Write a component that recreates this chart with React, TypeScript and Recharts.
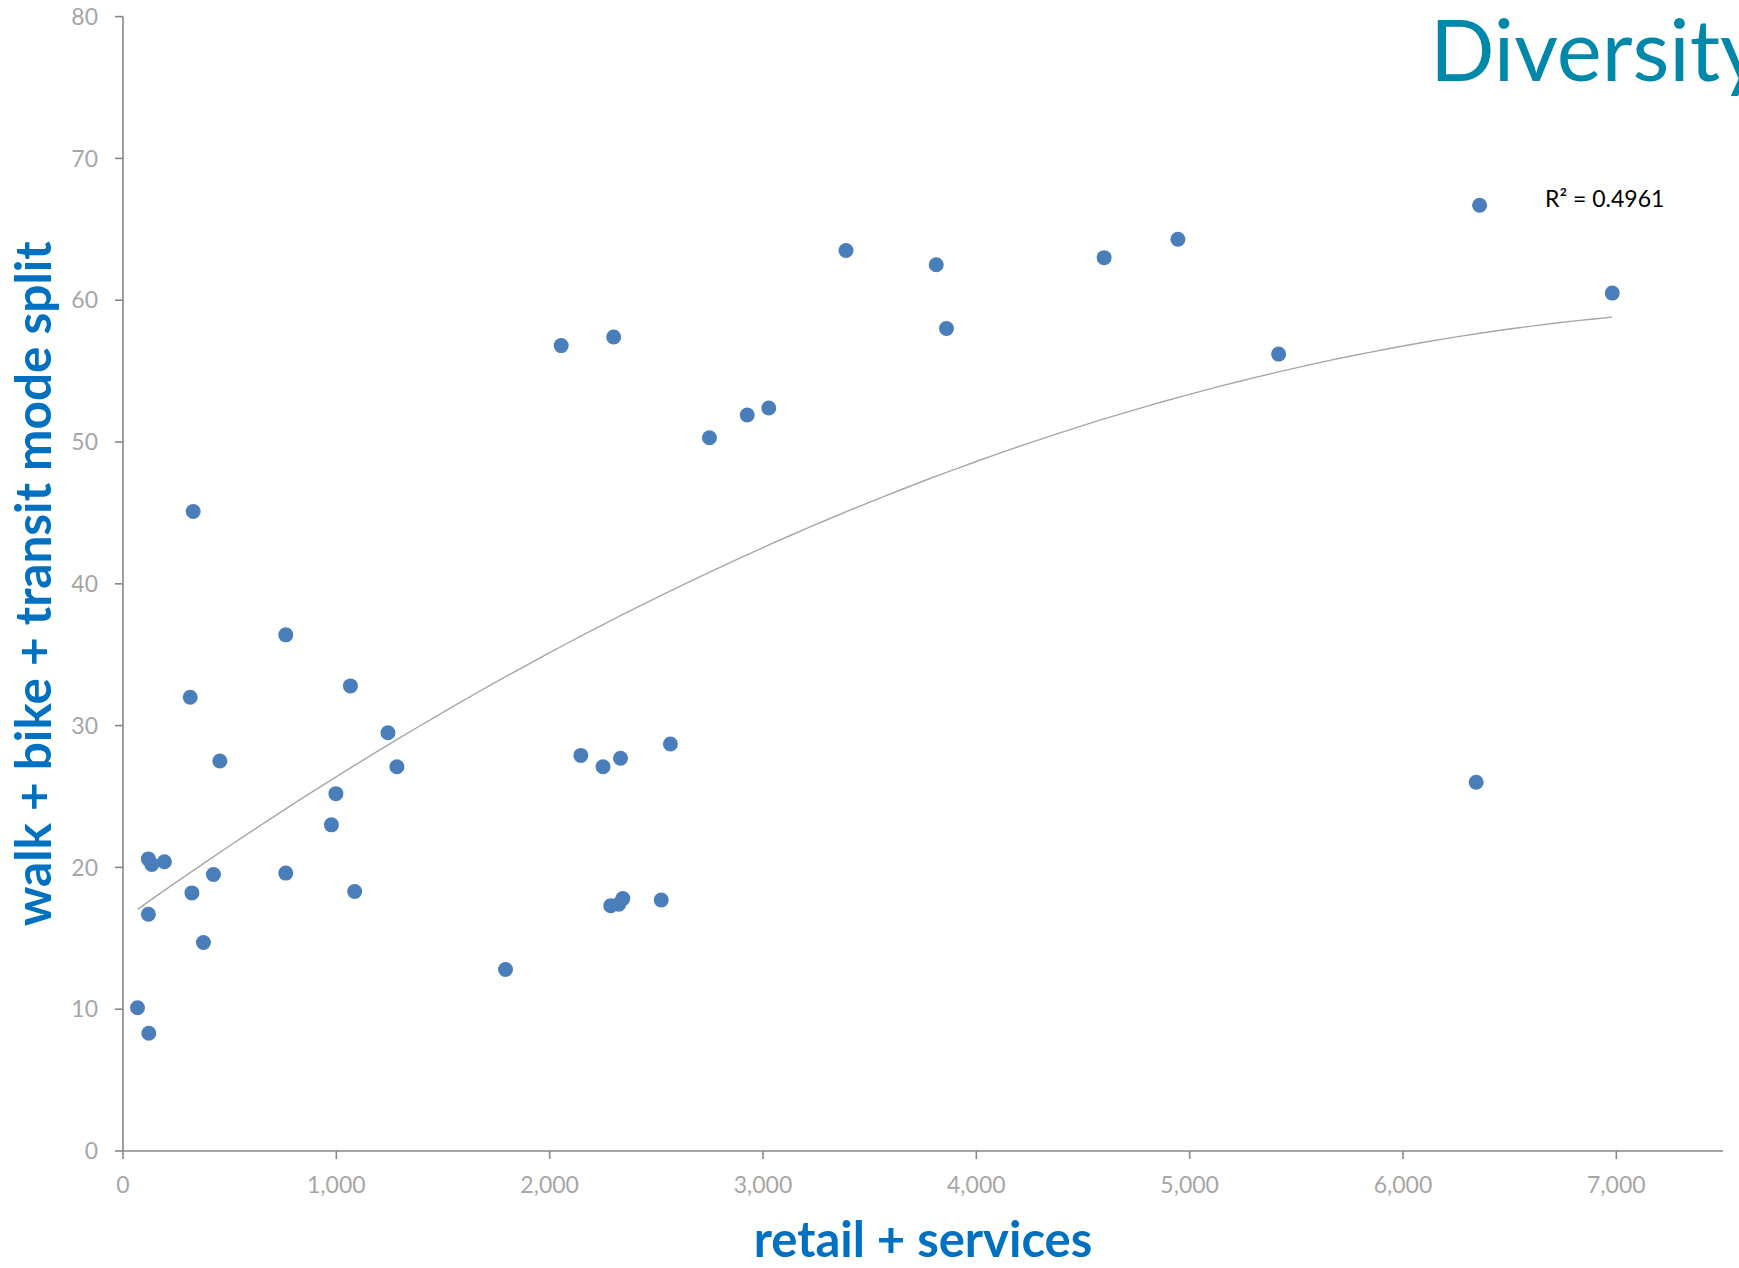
import React from "react";
import { ScatterChart, Scatter, XAxis, YAxis, Label } from "recharts";

// retail + services (x) and walk + bike + transit mode split (y)
const retailServices = [
  68, 121, 119, 119, 135, 194, 323, 377, 424, 315, 329, 454, 763, 763, 977, 998,
  1066, 1086, 1242, 1284, 1793, 2054, 2300, 2146, 2250, 2332, 2566, 2286, 2324,
  2343, 2523, 2749, 2926, 3027, 3389, 3812, 3860, 4599, 4945, 5417, 6343, 6359, 6981,
];
const modeSplit = [
  10.1, 8.3, 16.7, 20.6, 20.2, 20.4, 18.2, 14.7, 19.5, 32.0, 45.1, 27.5, 36.4, 19.6,
  23.0, 25.2, 32.8, 18.3, 29.5, 27.1, 12.8, 56.8, 57.4, 27.9, 27.1, 27.7, 28.7, 17.3,
  17.4, 17.8, 17.7, 50.3, 51.9, 52.4, 63.5, 62.5, 58.0, 63.0, 64.3, 56.2, 26.0, 66.7, 60.5,
];
const xTicks = [0, 1000, 2000, 3000, 4000, 5000, 6000, 7000];
const yTicks = [0, 10, 20, 30, 40, 50, 60, 70, 80];
const chartTitle = "Diversity";
const rSquaredLabel = "R² = 0.4961";
const xTitle = "retail + services";
const yTitle = "walk + bike + transit mode split";

const points = retailServices.map((x, i) => ({ x, y: modeSplit[i] }));

// Polynomial (order 2) least-squares trendline, as the original chart's trendline
function fitQuadratic(xs: number[], ys: number[]) {
  const s = [0, 0, 0, 0, 0];
  const t = [0, 0, 0];
  xs.forEach((xv, i) => {
    const u = xv / 1000;
    for (let k = 0; k < 5; k++) s[k] += Math.pow(u, k);
    for (let k = 0; k < 3; k++) t[k] += ys[i] * Math.pow(u, k);
  });
  const A = [
    [s[0], s[1], s[2], t[0]],
    [s[1], s[2], s[3], t[1]],
    [s[2], s[3], s[4], t[2]],
  ];
  for (let c = 0; c < 3; c++) {
    for (let r = c + 1; r < 3; r++) {
      const f = A[r][c] / A[c][c];
      for (let k = c; k < 4; k++) A[r][k] -= f * A[c][k];
    }
  }
  const coef = [0, 0, 0];
  for (let r = 2; r >= 0; r--) {
    let v = A[r][3];
    for (let k = r + 1; k < 3; k++) v -= A[r][k] * coef[k];
    coef[r] = v / A[r][r];
  }
  return coef;
}
const coef = fitQuadratic(retailServices, modeSplit);
const xMin = Math.min(...retailServices);
const xMax = Math.max(...retailServices);
const trendData = Array.from({ length: 80 }, (_, i) => {
  const x = xMin + ((xMax - xMin) * i) / 79;
  const u = x / 1000;
  return { x, y: coef[0] + coef[1] * u + coef[2] * u * u };
});

const FONT = "Lato, 'Open Sans', sans-serif";
const tickStyle = { fill: "#A6A6A6", fontSize: 23, fontFamily: FONT };

const Dot = (props: any) => (
  <circle cx={props.cx} cy={props.cy} r={7.5} fill="#4A7EBB" />
);
const NoShape = () => <g />;

export default function App() {
  return (
    <div
      style={{
        position: "absolute",
        left: 0,
        top: 0,
        width: 1739,
        height: 1268,
        overflow: "hidden",
        background: "#ffffff",
      }}
    >
      <ScatterChart
        width={1739}
        height={1268}
        margin={{ top: 16.6, right: 16, left: 0, bottom: 0 }}
        style={{ fontFamily: FONT }}
      >
        <XAxis
          type="number"
          dataKey="x"
          domain={[0, 7500]}
          ticks={xTicks}
          allowDataOverflow
          height={117}
          tickSize={8}
          tickMargin={18}
          tick={tickStyle}
          tickFormatter={(v: number) => v.toLocaleString("en-US")}
          axisLine={{ stroke: "#878787", strokeWidth: 1.6 }}
          tickLine={{ stroke: "#878787", strokeWidth: 1.6 }}
        >
          <Label
            content={(p: any) => {
              const vb = p.viewBox;
              return (
                <text
                  x={vb.x + vb.width / 2}
                  y={1257}
                  textAnchor="middle"
                  fill="#0070C0"
                  fontFamily={FONT}
                  fontWeight="bold"
                  fontSize={49}
                >
                  {xTitle}
                </text>
              );
            }}
          />
        </XAxis>
        <YAxis
          type="number"
          dataKey="y"
          domain={[0, 80]}
          ticks={yTicks}
          allowDataOverflow
          width={123}
          tickSize={8}
          tickMargin={17}
          tick={tickStyle}
          axisLine={{ stroke: "#878787", strokeWidth: 1.6 }}
          tickLine={{ stroke: "#878787", strokeWidth: 1.6 }}
        >
          <Label
            content={(p: any) => {
              const vb = p.viewBox;
              const cx = 51;
              const cy = vb.y + vb.height / 2;
              return (
                <text
                  x={cx}
                  y={cy}
                  textAnchor="middle"
                  transform={`rotate(-90, ${cx}, ${cy})`}
                  fill="#0070C0"
                  fontFamily={FONT}
                  fontWeight="bold"
                  fontSize={49.5}
                >
                  {yTitle}
                </text>
              );
            }}
          />
        </YAxis>
        <Scatter
          data={trendData}
          line={{ stroke: "#A6A6A6", strokeWidth: 1.4 }}
          lineType="joint"
          shape={NoShape}
          isAnimationActive={false}
        />
        <Scatter data={points} shape={Dot} isAnimationActive={false} />
      </ScatterChart>
      <svg
        width={1739}
        height={1268}
        style={{ position: "absolute", left: 0, top: 0, pointerEvents: "none" }}
      >
        <text x={1430} y={81} fill="#0088AA" fontFamily={FONT} fontSize={85}>
          {chartTitle}
        </text>
        <text x={1545} y={207} fill="#000000" fontFamily={FONT} fontSize={23}>
          {rSquaredLabel}
        </text>
      </svg>
    </div>
  );
}
